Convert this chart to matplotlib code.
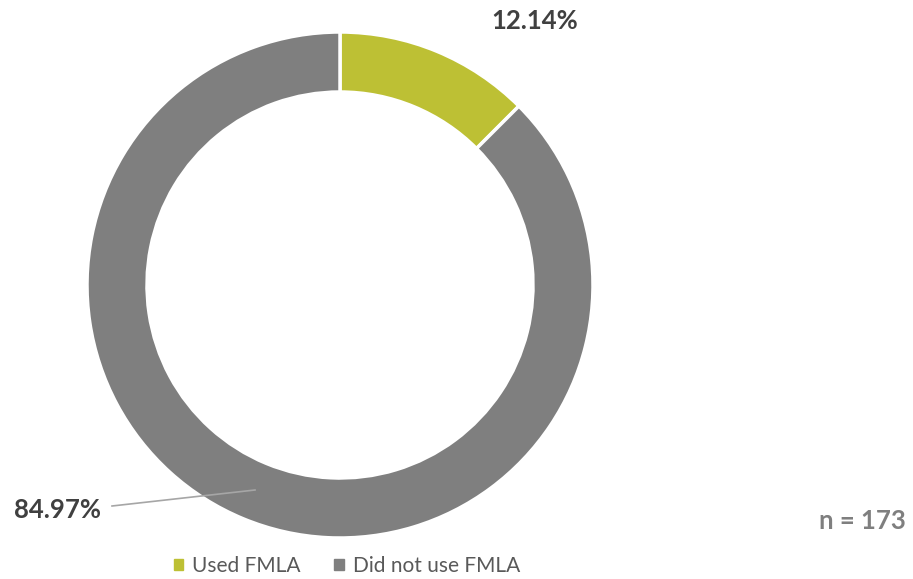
import matplotlib.pyplot as plt

# FMLA usage, share of respondents
categories = ['Used FMLA', 'Did not use FMLA']
values = [12.14, 84.97]
colors = ['#BDC034', '#7F7F7F']
n_label = 'n = 173'

plt.rcParams['font.family'] = ['Lato', 'DejaVu Sans']

W, H = 913, 579
fig = plt.figure(figsize=(W / 100, H / 100), dpi=100)
ax = fig.add_axes([0, 0, 1, 1])

# work in pixel-like coordinates, y pointing up
cx, cy, R = 340, H - 285, 253
wedges, _ = ax.pie(values, colors=colors, startangle=90, counterclock=False,
                   radius=R, center=(cx, cy),
                   wedgeprops=dict(width=60, edgecolor='white', linewidth=2.5))
ax.set_xlim(0, W)
ax.set_ylim(0, H)
ax.set_aspect('equal', adjustable='box')
ax.axis('off')

# data labels
ax.text(cx + 195, cy + 264, f'{values[0]:.2f}%', ha='center', va='center',
        fontsize=18.5, fontweight='bold', color='#404040')
ax.text(57, H - 510, f'{values[1]:.2f}%', ha='center', va='center',
        fontsize=18.5, fontweight='bold', color='#404040')
ax.plot([112, 255], [H - 506, H - 490], color='#A6A6A6', lw=1.2)

# sample size
ax.text(906, H - 521, n_label, ha='right', va='center',
        fontsize=18.5, fontweight='bold', color='#7F7F7F')

# legend
handles = [plt.Rectangle((0, 0), 1, 1, color=c) for c in colors]
fig.legend(handles, categories, loc='center', bbox_to_anchor=(347 / W, 1 - 566 / H),
           ncol=2, frameon=False, fontsize=15, handlelength=0.45, handleheight=0.45,
           handletextpad=0.45, columnspacing=1.6, labelcolor='#595959')

fig.savefig('out.png', dpi=100)
